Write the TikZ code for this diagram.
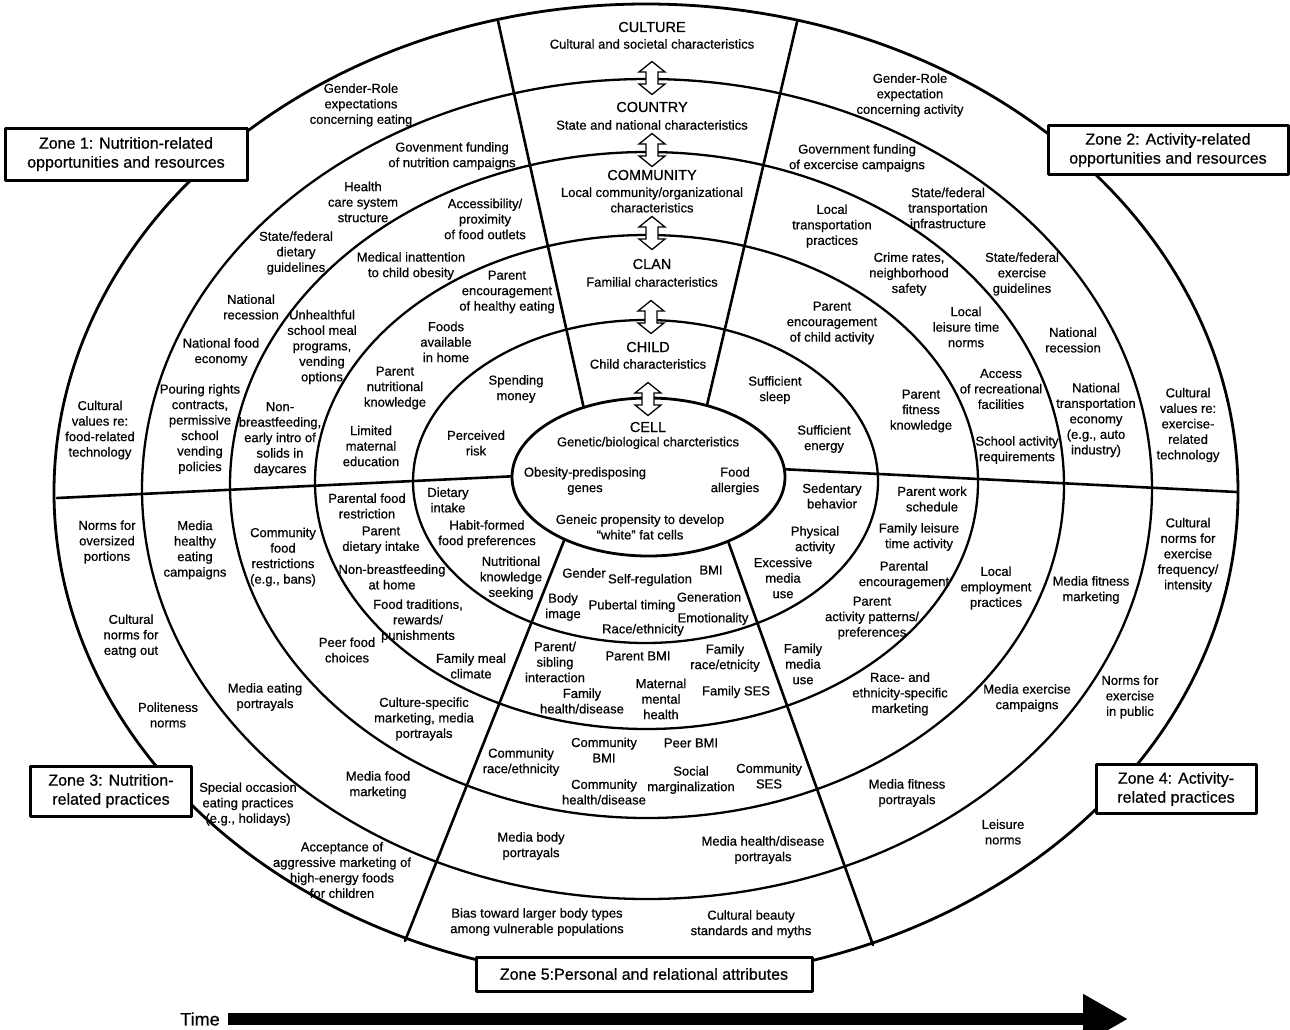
\documentclass[tikz,border=0pt]{standalone}
\usepackage{fontspec}
\setmainfont{Liberation Sans}[FakeBold=0.6]
\usetikzlibrary{arrows.meta}

\begin{document}
\begin{tikzpicture}[x=1pt, y=-1pt,
        line cap=round, line join=round,
        ring/.style={black, line width=2.3pt},
        divider/.style={black, line width=2.6pt},
        lbl/.style={align=center, inner sep=0pt, font=\fontsize{13}{15.5}\selectfont},
        level/.style={inner sep=0pt, font=\fontsize{14.5}{17}\selectfont},
        zone/.style={draw, fill=white, line width=3pt, align=center, inner sep=0pt,
                     font=\fontsize{16}{19}\selectfont},
        updown/.style={draw, fill=white, line width=1.3pt, line join=miter}]

        \useasboundingbox (0,0) rectangle (1290,1029);
        \clip (0,0) rectangle (1290,1029);

        % SECTOR LINES (drawn first, the cell covers their inner ends)
        \draw[divider] (57,498) -- (560,474);
        \draw[divider] (740,467) -- (1237,492);
        \draw[divider] (590,436) -- (498,21);
        \draw[divider] (700,435) -- (797,22);
        \draw[divider] (575,513) -- (405,941);
        \draw[divider] (719,516) -- (873,945);

        % RINGS
        \draw[ring, line width=2.8pt] (646,492) ellipse [x radius=592pt, y radius=488pt];
        \draw[ring] (647,489) ellipse [x radius=505pt, y radius=410pt];
        \draw[ring] (647,485) ellipse [x radius=417pt, y radius=333pt];
        \draw[ring] (646.5,482) ellipse [x radius=331.5pt, y radius=247pt];
        \draw[ring] (645.5,481.5) ellipse [x radius=232.5pt, y radius=161.5pt];
        \draw[ring, line width=2.8pt, fill=white] (648.5,477) ellipse [x radius=136.5pt, y radius=79pt];

        % hollow double arrows between the levels
        \foreach \ax/\ay in {652/78, 652/150, 652/233, 651/317, 648/399}{
        \draw[updown] (\ax-6,\ay-6) -- (\ax-6,\ay+6) -- (\ax-13,\ay+6) -- (\ax,\ay+16.5)
        -- (\ax+13,\ay+6) -- (\ax+6,\ay+6) -- (\ax+6,\ay-6) -- (\ax+13,\ay-6)
        -- (\ax,\ay-16.5) -- (\ax-13,\ay-6) -- cycle;
        }

        % LEVELS
        \node[level] (culture) at (652,27) {CULTURE};
        \node[lbl] (culturesub) at (652,44) {Cultural and societal characteristics};
        \node[level] (country) at (652,107) {COUNTRY};
        \node[lbl] (countrysub) at (652,125) {State and national characteristics};
        \node[level] (community) at (652,175) {COMMUNITY};
        \node[lbl] (communitysub) at (652,200) {Local community/organizational\\characteristics};
        \node[level] (clan) at (652,264) {CLAN};
        \node[lbl] (clansub) at (652,282) {Familial characteristics};
        \node[level] (child) at (648,347) {CHILD};
        \node[lbl] (childsub) at (648,364) {Child characteristics};
        \node[level] (cell) at (648,427) {CELL};
        \node[lbl] (cellsub) at (648,443) {Genetic/biological charcteristics};
        \node[lbl] (genes) at (585,481) {Obesity-predisposing\\genes};
        \node[lbl] (allergies) at (735,481) {Food\\allergies};
        \node[lbl] (fatcells) at (640,527) {Geneic propensity to develop\\``white'' fat cells};

        % ZONE 1
        \node[lbl] (z1gender) at (361,105) {Gender-Role\\expectations\\concerning eating};
        \node[lbl] (z1culture) at (100,430) {Cultural\\values re:\\food-related\\technology};
        \node[lbl] (z1funding) at (452,156) {Govenment funding\\of nutrition campaigns};
        \node[lbl] (z1health) at (363,202) {Health\\care system\\structure};
        \node[lbl] (z1guidelines) at (296,253) {State/federal\\dietary\\guidelines};
        \node[lbl] (z1recession) at (251,307) {National\\recession};
        \node[lbl] (z1economy) at (221,352) {National food\\economy};
        \node[lbl] (z1pouring) at (200,429) {Pouring rights\\contracts,\\permissive\\school\\vending\\policies};
        \node[lbl] (z1access) at (485,219) {Accessibility/\\proximity\\of food outlets};
        \node[lbl] (z1medical) at (411,266) {Medical inattention\\to child obesity};
        \node[lbl] (z1school) at (322,347) {Unhealthful\\school meal\\programs,\\vending\\options};
        \node[lbl] (z1nonbreast) at (280,439) {Non-\\breastfeeding,\\early intro of\\solids in\\daycares};
        \node[lbl] (z1encourage) at (507,292) {Parent\\encouragement\\of healthy eating};
        \node[lbl] (z1foods) at (446,342) {Foods\\available\\in home};
        \node[lbl] (z1knowledge) at (395,388) {Parent\\nutritional\\knowledge};
        \node[lbl] (z1maternal) at (371,446) {Limited\\maternal\\education};
        \node[lbl] (z1spending) at (516,389) {Spending\\money};
        \node[lbl] (z1risk) at (476,443) {Perceived\\risk};

        % ZONE 2
        \node[lbl] (z2gender) at (910,95) {Gender-Role\\expectation\\concerning activity};
        \node[lbl] (z2culture) at (1188,425) {Cultural\\values re:\\exercise-\\related\\technology};
        \node[lbl] (z2funding) at (857,158) {Government funding\\of excercise campaigns};
        \node[lbl] (z2transport) at (948,208) {State/federal\\transportation\\infrastructure};
        \node[lbl] (z2guidelines) at (1022,274) {State/federal\\exercise\\guidelines};
        \node[lbl] (z2recession) at (1073,340) {National\\recession};
        \node[lbl] (z2economy) at (1096,420) {National\\transportation\\economy\\(e.g., auto\\industry)};
        \node[lbl] (z2localtransport) at (832,226) {Local\\transportation\\practices};
        \node[lbl] (z2crime) at (909,274) {Crime rates,\\neighborhood\\safety};
        \node[lbl] (z2leisure) at (966,327) {Local\\leisure time\\norms};
        \node[lbl] (z2recreation) at (1001,389) {Access\\of recreational\\facilities};
        \node[lbl] (z2schoolact) at (1017,450) {School activity\\requirements};
        \node[lbl] (z2encourage) at (832,323) {Parent\\encouragement\\of child activity};
        \node[lbl] (z2fitness) at (921,411) {Parent\\fitness\\knowledge};
        \node[lbl] (z2sleep) at (775,390) {Sufficient\\sleep};
        \node[lbl] (z2energy) at (824,439) {Sufficient\\energy};

        % ZONE 3
        \node[lbl] (z3portions) at (107,542) {Norms for\\oversized\\portions};
        \node[lbl] (z3eatout) at (131,636) {Cultural\\norms for\\eatng out};
        \node[lbl] (z3politeness) at (168,715) {Politeness\\norms};
        \node[lbl] (z3occasion) at (248,804) {Special occasion\\eating practices\\(e.g., holidays)};
        \node[lbl] (z3aggressive) at (342,870) {Acceptance of\\aggressive marketing of\\high-energy foods\\for children};
        \node[lbl] (z3healthy) at (195,550) {Media\\healthy\\eating\\campaigns};
        \node[lbl] (z3portrayals) at (265,697) {Media eating\\portrayals};
        \node[lbl] (z3foodmarketing) at (378,785) {Media food\\marketing};
        \node[lbl] (z3restrictions) at (283,557) {Community\\food\\restrictions\\(e.g., bans)};
        \node[lbl] (z3peer) at (347,650) {Peer food\\choices};
        \node[lbl] (z3culturemkt) at (424,719) {Culture-specific\\marketing, media\\portrayals};
        \node[lbl] (z3restriction) at (367,506) {Parental food\\restriction};
        \node[lbl] (z3intake) at (381,540) {Parent\\dietary intake};
        \node[lbl] (z3nonbreast) at (392,577) {Non-breastfeeding\\at home};
        \node[lbl] (z3traditions) at (418,621) {Food traditions,\\rewards/\\punishments};
        \node[lbl] (z3climate) at (471,666) {Family meal\\climate};
        \node[lbl] (z3dietary) at (448,500) {Dietary\\intake};
        \node[lbl] (z3habit) at (487,534) {Habit-formed\\food preferences};
        \node[lbl] (z3seeking) at (511,578) {Nutritional\\knowledge\\seeking};

        % ZONE 4
        \node[lbl] (z4frequency) at (1188,555) {Cultural\\norms for\\exercise\\frequency/\\intensity};
        \node[lbl] (z4public) at (1130,697) {Norms for\\exercise\\in public};
        \node[lbl] (z4leisurenorms) at (1003,832) {Leisure\\norms};
        \node[lbl] (z4fitnessmkt) at (1091,590) {Media fitness\\marketing};
        \node[lbl] (z4campaigns) at (1027,698) {Media exercise\\campaigns};
        \node[lbl] (z4fitnessport) at (907,793) {Media fitness\\portrayals};
        \node[lbl] (z4employment) at (996,588) {Local\\employment\\practices};
        \node[lbl] (z4ethnicmkt) at (900,694) {Race- and\\ethnicity-specific\\marketing};
        \node[lbl] (z4work) at (932,499) {Parent work\\schedule};
        \node[lbl] (z4familyleisure) at (919,537) {Family leisure\\time activity};
        \node[lbl] (z4parental) at (904,575) {Parental\\encouragement};
        \node[lbl] (z4patterns) at (872,618) {Parent\\activity patterns/\\preferences};
        \node[lbl] (z4familymedia) at (803,664) {Family\\media\\use};
        \node[lbl] (z4sedentary) at (832,496) {Sedentary\\behavior};
        \node[lbl] (z4physical) at (815,540) {Physical\\activity};
        \node[lbl] (z4excessive) at (783,578) {Excessive\\media\\use};

        % ZONE 5
        \node[lbl] (z5gender) at (584,573) {Gender};
        \node[lbl] (z5selfreg) at (650,580) {Self-regulation};
        \node[lbl] (z5bmi) at (711,570) {BMI};
        \node[lbl] (z5body) at (563,607) {Body\\image};
        \node[lbl] (z5pubertal) at (632,606) {Pubertal timing};
        \node[lbl] (z5generation) at (709,597) {Generation};
        \node[lbl] (z5emotion) at (713,619) {Emotionality};
        \node[lbl] (z5race) at (643,630) {Race/ethnicity};
        \node[lbl] (z5sibling) at (555,662) {Parent/\\sibling\\interaction};
        \node[lbl] (z5parentbmi) at (638,656) {Parent BMI};
        \node[lbl] (z5familyrace) at (725,658) {Family\\race/etnicity};
        \node[lbl] (z5familyhealth) at (582,701) {Family\\health/disease};
        \node[lbl] (z5maternal) at (661,699) {Maternal\\mental\\health};
        \node[lbl] (z5ses) at (736,692) {Family SES};
        \node[lbl] (z5commrace) at (521,762) {Community\\race/ethnicity};
        \node[lbl] (z5commbmi) at (604,750) {Community\\BMI};
        \node[lbl] (z5peerbmi) at (691,743) {Peer BMI};
        \node[lbl] (z5commhealth) at (604,792) {Community\\health/disease};
        \node[lbl] (z5marginal) at (691,780) {Social\\marginalization};
        \node[lbl] (z5commses) at (769,776) {Community\\SES};
        \node[lbl] (z5bodyport) at (531,846) {Media body\\portrayals};
        \node[lbl] (z5healthport) at (763,850) {Media health/disease\\portrayals};
        \node[lbl] (z5bias) at (537,922) {Bias toward larger body types\\among vulnerable populations};
        \node[lbl] (z5beauty) at (751,924) {Cultural beauty\\standards and myths};

        % ZONE BOXES
        \node[zone, minimum width=242pt, minimum height=52pt] (zone1) at (126,154)
        {Zone 1: Nutrition-related\\opportunities and resources};
        \node[zone, minimum width=240pt, minimum height=49pt] (zone2) at (1168,150)
        {Zone 2: Activity-related\\opportunities and resources};
        \node[zone, minimum width=161pt, minimum height=50pt] (zone3) at (111,791)
        {Zone 3: Nutrition-\\related practices};
        \node[zone, minimum width=160pt, minimum height=49pt] (zone4) at (1176,789)
        {Zone 4: Activity-\\related practices};
        \node[zone, minimum width=336pt, minimum height=34pt] (zone5) at (644,974)
        {Zone 5:Personal and relational attributes};

        % TIME
        \node[inner sep=0pt, font=\fontsize{18}{20}\selectfont] (time) at (200,1019) {Time};
        \coordinate (timeend) at (1128,1019);
        \draw[line width=12pt, line cap=butt, -{Triangle[length=45pt, width=47pt]}]
        ([xshift=8pt]time.east) -- (timeend);

\end{tikzpicture}
\end{document}
